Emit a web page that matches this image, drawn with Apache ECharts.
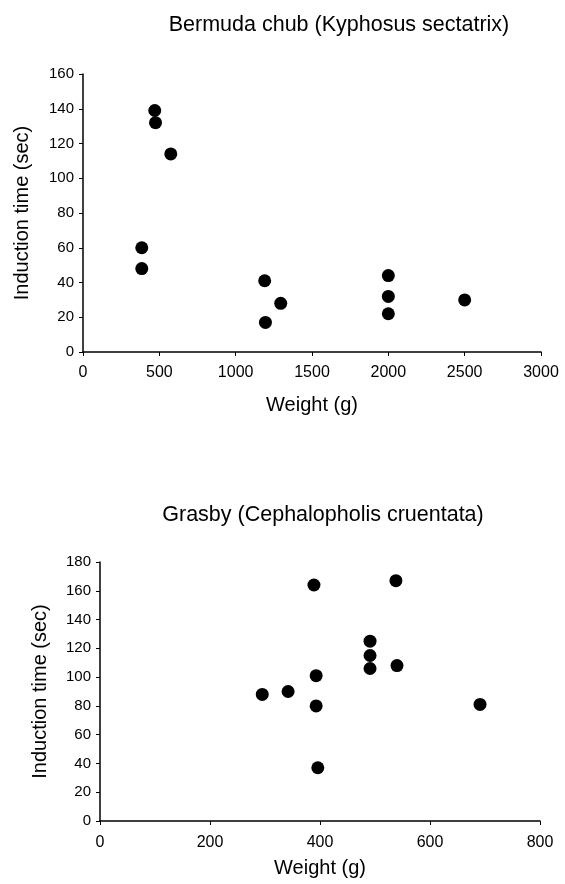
<!DOCTYPE html>
<html>
<head>
<meta charset="utf-8">
<script src="https://cdn.jsdelivr.net/npm/echarts@6/dist/echarts.min.js"></script>
<style>
  html, body { margin: 0; padding: 0; background: #fff; }
  #main { width: 565px; height: 884px; }
</style>
</head>
<body>
<div id="main"></div>
<script>
// Bermuda chub - weight (g) vs induction time (sec)
var chubWeight = [385, 385, 470, 475, 575, 1190, 1195, 1295, 2000, 2000, 2000, 2500];
var chubTime   = [60, 48, 139, 132, 114, 41, 17, 28, 44, 32, 22, 30];

// Grasby - weight (g) vs induction time (sec)
var grasbyWeight = [295, 342, 389, 538, 491, 491, 491, 540, 393, 393, 396, 691];
var grasbyTime   = [88, 90, 164, 167, 125, 115, 106, 108, 101, 80, 37, 81];

var titles = ['Bermuda chub (Kyphosus sectatrix)', 'Grasby (Cephalopholis cruentata)'];

function pairs(xs, ys) {
    var out = [];
    for (var i = 0; i < xs.length; i++) out.push([xs[i], ys[i]]);
    return out;
}

var font = 'Liberation Sans, Arial, sans-serif';
var axisLine = { show: true, lineStyle: { color: '#000', width: 1.5 } };
var axisTick = { show: true, length: 4, lineStyle: { color: '#000' } };
var plain = function (v) { return String(v); };
var xLbl = { color: '#000', fontSize: 16, fontFamily: font, margin: 13, formatter: plain };
var yLbl = { color: '#000', fontSize: 15, fontFamily: font, margin: 9, formatter: plain };
var nameStyle = { color: '#000', fontSize: 20, fontFamily: font };
var titleStyle = { fontSize: 21.5, fontWeight: 'normal', color: '#000', fontFamily: font };

var chart = echarts.init(document.getElementById('main'));
var option = {
    backgroundColor: '#fff',
    animation: false,
    title: [
        { text: titles[0], left: 334, top: 9, textAlign: 'center', textStyle: titleStyle },
        { text: titles[1], left: 318, top: 499, textAlign: 'center', textStyle: titleStyle }
    ],
    grid: [
        { left: 83, top: 74, width: 458, height: 278 },
        { left: 100, top: 562, width: 440, height: 259 }
    ],
    xAxis: [
        { gridIndex: 0, type: 'value', min: 0, max: 3000, interval: 500,
          name: 'Weight (g)', nameLocation: 'middle', nameGap: 43, nameTextStyle: nameStyle,
          axisLine: axisLine, axisTick: axisTick, axisLabel: xLbl, splitLine: { show: false } },
        { gridIndex: 1, type: 'value', min: 0, max: 800, interval: 200,
          name: 'Weight (g)', nameLocation: 'middle', nameGap: 37, nameTextStyle: nameStyle,
          axisLine: axisLine, axisTick: axisTick, axisLabel: Object.assign({}, xLbl, { margin: 14 }),
          splitLine: { show: false } }
    ],
    yAxis: [
        { gridIndex: 0, type: 'value', min: 0, max: 160, interval: 20,
          name: 'Induction time (sec)', nameLocation: 'middle', nameGap: 51, nameTextStyle: nameStyle,
          axisLine: axisLine, axisTick: axisTick, axisLabel: yLbl, splitLine: { show: false } },
        { gridIndex: 1, type: 'value', min: 0, max: 180, interval: 20,
          name: 'Induction time (sec)', nameLocation: 'middle', nameGap: 50, nameTextStyle: nameStyle,
          axisLine: axisLine, axisTick: axisTick, axisLabel: yLbl, splitLine: { show: false } }
    ],
    series: [
        { type: 'scatter', xAxisIndex: 0, yAxisIndex: 0, symbolSize: 13,
          itemStyle: { color: '#000', opacity: 1 }, data: pairs(chubWeight, chubTime) },
        { type: 'scatter', xAxisIndex: 1, yAxisIndex: 1, symbolSize: 13,
          itemStyle: { color: '#000', opacity: 1 }, data: pairs(grasbyWeight, grasbyTime) }
    ]
};
chart.setOption(option);
</script>
</body>
</html>
